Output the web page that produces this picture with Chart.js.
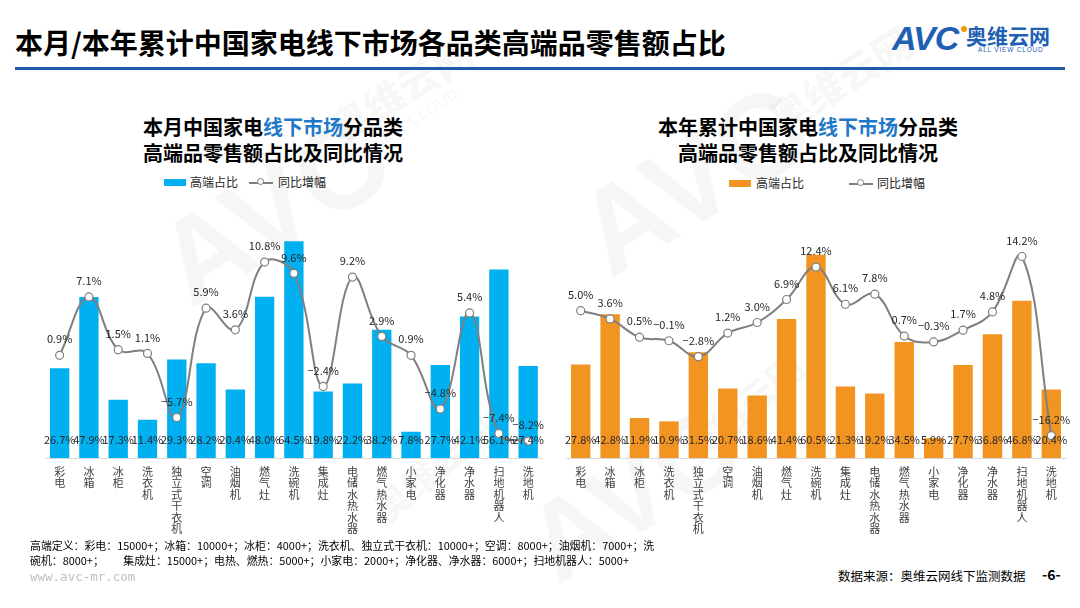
<!DOCTYPE html>
<html>
<head>
<meta charset="utf-8">
<script src="https://cdn.jsdelivr.net/npm/chart.js@4.4.1/dist/chart.umd.min.js"></script>
<style>
  html,body{margin:0;padding:0;background:#fff;}
  body{width:1080px;height:608px;position:relative;overflow:hidden;font-family:"Noto Sans CJK SC","Noto Sans",sans-serif;color:#000;}
  .abs{position:absolute;white-space:nowrap;}
  .wm{position:absolute;white-space:nowrap;color:rgba(0,0,0,0.035);font-weight:900;transform-origin:center center;}
  .ctitle{position:absolute;width:400px;text-align:center;font-size:20px;font-weight:700;line-height:26px;color:#000;}
  .ctitle .hl{color:#1F78C8;}
  .lg{position:absolute;font-size:12px;line-height:14px;color:#262626;}
  canvas{position:absolute;}
</style>
</head>
<body>
<!-- watermarks -->
<div class="wm" style="left:150px;top:140px;font-size:120px;font-family:'Liberation Sans';transform:rotate(-32deg);">AVC</div>
<div class="wm" style="left:320px;top:60px;font-size:40px;transform:rotate(-32deg);">奥维云网</div>
<div class="wm" style="left:330px;top:120px;font-size:16px;font-family:'Liberation Sans';transform:rotate(-32deg);">ALL VIEW CLOUD</div>
<div class="wm" style="left:570px;top:110px;font-size:120px;font-family:'Liberation Sans';transform:rotate(-32deg);">AVC</div>
<div class="wm" style="left:760px;top:50px;font-size:40px;transform:rotate(-32deg);">奥维云网</div>
<div class="wm" style="left:520px;top:430px;font-size:110px;font-family:'Liberation Sans';transform:rotate(-32deg);">AVC</div>
<div class="wm" style="left:670px;top:380px;font-size:36px;transform:rotate(-40deg);">奥维云网</div>
<div class="wm" style="left:360px;top:440px;font-size:36px;transform:rotate(-40deg);">奥维云网</div>

<div class="abs" style="left:15px;top:27px;font-size:28px;font-weight:700;line-height:31px;">本月/本年累计中国家电线下市场各品类高端品零售额占比</div>
<div class="abs" style="left:15px;top:67px;width:1050px;height:3px;background:#1F5AAB;"></div>

<!-- logo -->
<div class="abs" style="left:892px;top:20px;font-family:'Liberation Sans';font-weight:700;font-style:italic;font-size:34px;line-height:36px;color:#1F5FB4;letter-spacing:-1px;">AVC</div>
<div class="abs" style="left:961px;top:26px;width:6px;height:6px;border-radius:3px;background:#F39800;"></div>
<div class="abs" style="left:966px;top:23px;font-size:21px;font-weight:700;line-height:24px;color:#1F5FB4;">奥维云网</div>
<div class="abs" style="left:978px;top:46px;font-family:'Liberation Sans';font-size:6.5px;line-height:7px;color:#1F5FB4;letter-spacing:0.8px;">ALL VIEW CLOUD</div>

<!-- chart titles -->
<div class="ctitle" style="left:73px;top:114px;">本月中国家电<span class="hl">线下市场</span>分品类<br>高端品零售额占比及同比情况</div>
<div class="ctitle" style="left:608px;top:114px;">本年累计中国家电<span class="hl">线下市场</span>分品类<br>高端品零售额占比及同比情况</div>

<!-- legends -->
<div class="abs" style="left:164px;top:179px;width:22px;height:7px;background:#00B0F0;"></div>
<div class="lg" style="left:190px;top:175px;">高端占比</div>
<div class="abs" style="left:249px;top:182px;width:24px;height:1.5px;background:#7F7F7F;"></div>
<div class="abs" style="left:257px;top:178px;width:7px;height:7px;border-radius:50%;background:#fff;border:1px solid #7F7F7F;box-sizing:border-box;"></div>
<div class="lg" style="left:278px;top:175px;">同比增幅</div>

<div class="abs" style="left:729px;top:180px;width:22px;height:7px;background:#F29422;"></div>
<div class="lg" style="left:756px;top:176px;">高端占比</div>
<div class="abs" style="left:849px;top:183px;width:24px;height:1.5px;background:#7F7F7F;"></div>
<div class="abs" style="left:857px;top:179px;width:7px;height:7px;border-radius:50%;background:#fff;border:1px solid #7F7F7F;box-sizing:border-box;"></div>
<div class="lg" style="left:877px;top:176px;">同比增幅</div>

<canvas id="c1" width="548" height="320" style="left:0px;top:220px;"></canvas>
<canvas id="c2" width="540" height="320" style="left:540px;top:220px;"></canvas>

<!-- footnotes -->
<div class="abs" style="left:30px;top:538px;font-size:10.9px;line-height:15px;white-space:pre;">高端定义：彩电：15000+；冰箱：10000+；冰柜：4000+；洗衣机、独立式干衣机：10000+；空调：8000+；油烟机：7000+；洗
碗机：8000+；        集成灶：15000+；电热、燃热：5000+；小家电：2000+；净化器、净水器：6000+；扫地机器人：5000+</div>
<div class="abs" style="left:30px;top:569px;font-family:'DejaVu Sans Mono';font-size:12.5px;line-height:15px;color:#BFBFBF;">www.avc-mr.com</div>
<div class="abs" style="left:838px;top:568px;font-size:12.5px;line-height:15px;color:#000;">数据来源：奥维云网线下监测数据</div>
<div class="abs" style="left:1042px;top:566px;font-size:14px;line-height:17px;font-weight:700;">-6-</div>

<script>
// ---- data ----
const categories = ['彩电','冰箱','冰柜','洗衣机','独立式干衣机','空调','油烟机','燃气灶','洗碗机','集成灶','电储水热水器','燃气热水器','小家电','净化器','净水器','扫地机器人','洗地机'];
const monthShare  = [26.7,47.9,17.3,11.4,29.3,28.2,20.4,48.0,64.5,19.8,22.2,38.2,7.8,27.7,42.1,56.1,27.4];
const monthGrowth = [0.9,7.1,1.5,1.1,-5.7,5.9,3.6,10.8,9.6,-2.4,9.2,2.9,0.9,-4.8,5.4,-7.4,-8.2];
const ytdShare    = [27.8,42.8,11.9,10.9,31.5,20.7,18.6,41.4,60.5,21.3,19.2,34.5,5.9,27.7,36.8,46.8,20.4];
const ytdGrowth   = [5.0,3.6,0.5,-0.1,-2.8,1.2,3.0,6.9,12.4,6.1,7.8,0.7,-0.3,1.7,4.8,14.2,-16.2];
const shareLabel = '高端占比';
const growthLabel = '同比增幅';

const verticalLabels = categories.map(c => c.split(''));
const fmt = v => (v < 0 ? '−' : '') + Math.abs(v).toFixed(1) + '%';

const labelPlugin = {
  id: 'valueLabels',
  afterDatasetsDraw(chart) {
    const ctx = chart.ctx;
    ctx.save();
    ctx.font = '11px "Noto Sans CJK SC"';
    ctx.fillStyle = '#262626';
    ctx.textAlign = 'center';
    ctx.textBaseline = 'middle';
    const y0 = chart.scales.y.getPixelForValue(0);
    const bars = chart.getDatasetMeta(0).data;
    const barVals = chart.data.datasets[0].data;
    bars.forEach((el, i) => ctx.fillText(fmt(barVals[i]), el.x, y0 - 18));
    const pts = chart.getDatasetMeta(1).data;
    const lineVals = chart.data.datasets[1].data;
    pts.forEach((el, i) => ctx.fillText(fmt(lineVals[i]), el.x, el.y - 16));
    ctx.restore();
  }
};

function makeChart(id, share, growth, barColor, padL, padR, gMin, gMax) {
  return new Chart(document.getElementById(id), {
    data: {
      labels: verticalLabels,
      datasets: [
        { type: 'bar', label: shareLabel, data: share, backgroundColor: barColor,
          yAxisID: 'y', order: 2, barPercentage: 0.66, categoryPercentage: 1.0 },
        { type: 'line', label: growthLabel, data: growth, yAxisID: 'y1', order: 1,
          borderColor: '#7F7F7F', borderWidth: 2, tension: 0.4, clip: false,
          pointRadius: 4, pointBackgroundColor: '#FFFFFF', pointBorderColor: '#7F7F7F', pointBorderWidth: 1.2 }
      ]
    },
    options: {
      responsive: false,
      devicePixelRatio: 1,
      animation: false,
      layout: { padding: { left: padL, right: padR, top: 10, bottom: 0 } },
      plugins: { legend: { display: false }, tooltip: { enabled: false } },
      scales: {
        x: {
          grid: { display: false, drawTicks: false },
          border: { display: true, color: '#D9D9D9', width: 1 },
          ticks: { autoSkip: false, maxRotation: 0, minRotation: 0, padding: 8, color: '#404040',
                   font: { family: 'Noto Sans CJK SC', size: 11, lineHeight: 1.04 } },
          afterFit: s => { s.height = 82; }
        },
        y: { display: false, min: 0, max: 67.86 },
        y1: { display: false, min: gMin, max: gMax }
      }
    },
    plugins: [labelPlugin]
  });
}

makeChart('c1', monthShare, monthGrowth, '#00B0F0', 45, 5, -10, 14.2);
makeChart('c2', ytdShare, ytdGrowth, '#F29422', 26, 14, -20, 18.7);
</script>
</body>
</html>
